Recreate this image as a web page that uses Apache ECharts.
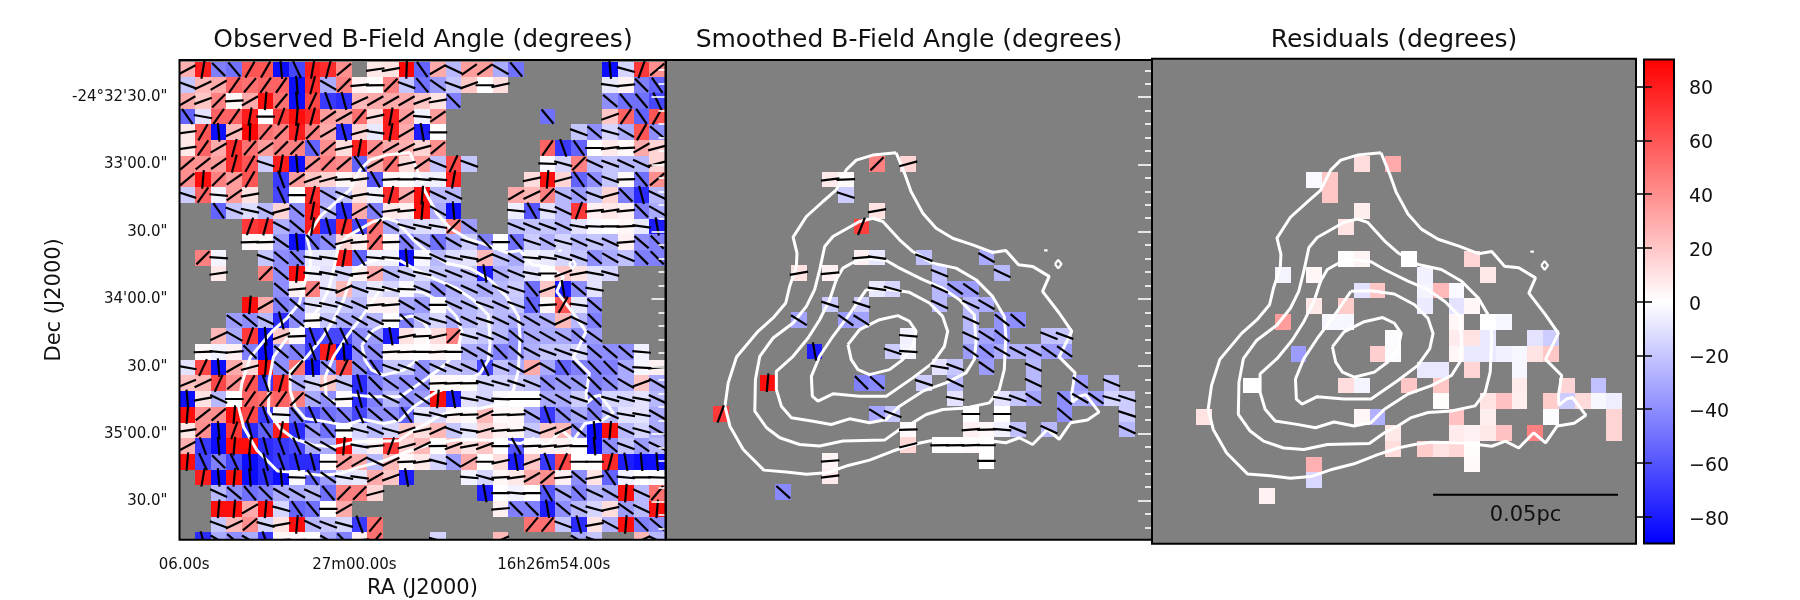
<!DOCTYPE html>
<html>
<head>
<meta charset="utf-8">
<style>html,body{margin:0;padding:0;background:#fff}#chart{width:1800px;height:600px}</style>
<script src="https://cdn.jsdelivr.net/npm/echarts@6/dist/echarts.min.js"></script>
</head>
<body>
<div id="chart"></div>
<script>
const _ = null;

// Observed field angle per map pixel (degrees), one list per row from north to south.
const obs00 = [28,80,-45,-50,60,60,-85,-65,80,75,40,_,8,10,88,-55,30,-25,35,35,-30,-50,_,_,_,_,_,-85,-15,70,40];
const obs01 = [-20,25,30,55,50,55,55,-85,75,-30,45,5,1,45,-20,-50,-35,-20,20,0,12,_,_,_,_,_,_,-8,5,-45,-55];
const obs02 = [30,20,45,3,30,85,50,-85,65,-70,-75,25,30,30,30,20,10,-45,_,_,_,_,_,_,_,_,_,-40,-50,-50,-65];
const obs03 = [-55,-10,55,55,80,0,70,85,75,35,30,50,12,80,35,-5,35,_,_,_,_,_,_,-50,_,_,_,20,55,-55,60];
const obs04 = [8,60,-85,25,88,50,45,80,45,30,-75,15,-8,80,30,-80,0,_,_,_,_,_,_,_,_,-20,-40,-15,-30,60,-40];
const obs05 = [8,55,30,75,50,35,45,45,-55,40,12,80,40,30,28,15,40,_,_,_,_,_,_,55,-70,-55,0,7,2,30,15];
const obs06 = [40,38,35,75,60,-18,80,-85,38,45,40,-55,30,50,12,35,-22,65,-20,_,_,_,_,-2,-15,45,-25,-20,-25,-25,15];
const obs07 = [40,85,45,35,60,_,-70,35,20,15,3,8,-60,3,0,-5,-5,80,_,_,_,_,12,85,15,-55,-40,-20,2,-50,40];
const obs08 = [-18,55,-5,35,10,_,-65,0,75,-30,-22,10,-5,75,30,85,-25,-25,_,_,_,30,25,45,-25,-35,-20,15,-45,-75,-25];
const obs09 = [_,_,-55,-20,-12,-25,15,-40,80,-28,-75,30,-45,8,5,85,-30,-85,_,_,_,-6,-60,-10,-25,70,5,8,5,-45,-30];
const obs10 = [_,_,_,_,70,75,-28,-40,80,-75,75,-65,50,-30,-15,-12,-10,45,-35,_,_,-22,-22,-20,-25,-10,-2,0,3,-8,-80];
const obs11 = [_,_,_,_,2,2,-35,-85,-50,-40,15,5,50,2,-45,-30,-50,-30,-18,-45,0,-50,-18,-28,-15,-25,-20,-25,5,-40,-45];
const obs12 = [_,45,-4,_,_,-20,-40,-45,-8,-8,80,-55,-5,-5,-85,-3,-25,-12,-10,25,-22,-30,-5,-8,-15,-20,-40,-30,-22,-45,-45];
const obs13 = [_,_,8,_,_,45,-40,85,-5,-10,-15,5,30,-25,-18,-12,-20,-22,-22,-80,-28,-22,-10,0,20,10,-10,-15,_,_,_];
const obs14 = [_,_,_,_,_,_,-40,5,45,-10,25,-20,-8,-15,-2,-22,-40,-28,-25,-30,-25,-18,-50,20,-80,-40,-10,_,_,_,_];
const obs15 = [_,_,_,_,85,30,-45,-40,-10,-12,-20,-25,5,5,-30,-35,0,-25,-25,-20,-25,-20,-55,3,60,-8,-40,_,_,_,_];
const obs16 = [_,_,_,-35,-40,-25,-75,-40,2,-20,-30,-30,-25,0,-45,-25,-15,-30,-25,-18,-25,-30,-30,-28,25,-25,-45,_,_,_,_];
const obs17 = [_,_,25,-30,70,-85,20,2,-70,-65,-65,-40,-35,-80,10,3,12,45,-15,-20,-25,-40,-30,-30,-30,-40,-35,_,_,_,_];
const obs18 = [_,2,-5,5,-45,-85,-40,-45,-70,80,-85,-40,-40,3,2,0,3,0,-30,-30,-45,-40,-28,-20,-20,-15,-40,-40,-40,-5,_];
const obs19 = [-10,65,-85,30,15,85,-40,50,-85,-40,65,-40,-55,-20,-20,-40,-25,-22,-25,-65,-22,-30,30,-30,-55,-45,-45,-45,-30,-3,5];
const obs20 = [22,25,65,40,60,-70,75,-30,-15,20,-20,-75,-45,-35,-40,-40,2,2,1,-15,-15,-18,-22,-40,-35,-35,-45,-40,-30,20,-30];
const obs21 = [-85,10,-25,0,55,50,55,45,-30,-40,2,-75,-45,-25,-40,-35,85,-80,-10,-15,-2,0,0,-30,-30,-18,-45,-15,-15,-10,-25];
const obs22 = [85,38,40,85,65,-70,-3,-50,-65,-50,-45,-65,-40,-40,-55,-8,-15,5,2,25,2,3,-30,-70,-40,-30,-45,-25,-10,-10,-30];
const obs23 = [8,40,-85,70,-75,-55,80,-75,-35,-50,0,-15,-25,-15,20,12,25,-20,-8,15,5,3,-20,20,25,-40,-85,85,-25,-15,-30];
const obs24 = [28,-70,-85,85,85,-75,-70,-65,-30,-30,85,-10,5,70,15,25,1,20,10,20,0,-60,2,5,5,0,-85,-40,-20,-35,-25];
const obs25 = [85,-65,-45,-65,-85,-75,-70,-75,-75,0,35,30,-25,25,2,8,-15,-35,30,0,12,-80,20,-70,65,0,0,75,-80,-85,-85];
const obs26 = [_,80,-85,85,-85,-75,-85,-2,-55,-35,-10,-8,30,20,-80,_,_,_,-5,-15,3,8,30,40,5,-40,10,-55,-5,0,-2];
const obs27 = [_,_,-25,-40,-50,-45,-30,-30,-25,-50,45,45,15,_,_,_,_,_,_,-80,0,-5,0,-60,-30,-45,-25,-30,85,-25,50];
const obs28 = [_,_,85,85,30,85,-15,-55,-50,0,30,_,_,_,_,_,_,_,_,_,5,-45,-45,-80,-40,-25,-15,12,-35,-25,85];
const obs29 = [_,_,-20,25,40,-15,10,85,-25,-20,-15,-70,50,_,_,_,_,_,_,_,_,_,50,50,-20,-75,10,-28,85,-45,-40];
const obs30 = [_,-75,-30,-40,-30,-70,3,2,0,-30,-45,5,50,_,_,_,-15,_,_,_,25,_,_,_,_,-30,-20,_,_,25,-25];
const observedRows = [obs00,obs01,obs02,obs03,obs04,obs05,obs06,obs07,obs08,obs09,obs10,obs11,obs12,obs13,obs14,obs15,
  obs16,obs17,obs18,obs19,obs20,obs21,obs22,obs23,obs24,obs25,obs26,obs27,obs28,obs29,obs30];

// Smoothed angle on the dense core: [column, row, degrees].
const smoothedCells = [
  [13,6,45],[15,6,15],[10,7,7],[11,7,2],[11,8,-18],[13,9,10],[12,10,68],
  [12,12,5],[13,12,-8],[16,12,-22],[20,12,-30],[8,13,10],[10,13,5],[17,13,-22],[21,13,-25],
  [13,14,-8],[14,14,-15],[17,14,-25],[18,14,-35],[19,14,-35],
  [10,15,-18],[12,15,-18],[17,15,-25],[19,15,-25],[20,15,-30],
  [8,16,-32],[11,16,-35],[12,16,-32],[19,16,-25],[21,16,-38],[22,16,-40],
  [15,17,-5],[19,17,-25],[20,17,-32],[21,17,-38],[24,17,-22],[25,17,-20],
  [9,18,-80],[14,18,-18],[15,18,-4],[19,18,-35],[20,18,-38],[21,18,-30],[22,18,-28],[23,18,-28],[24,18,-35],[25,18,-35],
  [17,19,-10],[18,19,-20],[20,19,-35],[23,19,-25],
  [6,20,85],[12,20,-45],[13,20,-42],[16,20,-18],[18,20,-25],[23,20,-25],[26,20,-35],[28,20,-22],
  [18,21,-10],[21,21,-10],[22,21,-20],[23,21,-32],[25,21,-40],[26,21,-30],[27,21,-35],[28,21,-15],[29,21,-18],
  [3,22,70],[13,22,-32],[14,22,-20],[19,22,0],[21,22,0],[25,22,-40],[29,22,-18],
  [15,23,2],[19,23,5],[20,23,2],[21,23,-5],[22,23,-22],[24,23,-25],[29,23,-25],
  [15,24,14],[17,24,1],[18,24,1],[19,24,2],[20,24,0],
  [10,25,4],[20,25,0],[10,26,7],[7,27,-42]
];

// Observed minus smoothed on the same pixels: [column, row, degrees].
const residualCells = [
  [13,6,12],[15,6,30],[10,7,-2],[11,7,20],[11,8,20],[13,9,6],[12,10,10],
  [12,12,1],[13,12,4],[16,12,0],[20,12,15],[8,13,-4],[10,13,3],[17,13,-5],[21,13,8],
  [13,14,-10],[14,14,20],[17,14,-4],[18,14,25],[19,14,-2],
  [10,15,8],[12,15,18],[17,15,-7],[19,15,-10],[20,15,3],
  [8,16,35],[11,16,-3],[12,16,-3],[19,16,3],[21,16,0],[22,16,-3],
  [15,17,-1],[19,17,7],[20,17,10],[21,17,-8],[24,17,-10],[25,17,-18],
  [9,18,-35],[14,18,17],[15,18,-1],[19,18,3],[20,18,-8],[21,18,-8],[22,18,-5],[23,18,-3],[24,18,10],[25,18,20],
  [17,19,-8],[18,19,-8],[20,19,15],[23,19,-3],
  [6,20,0],[12,20,12],[13,20,-4],[16,20,20],[18,20,20],[23,20,7],[26,20,15],[28,20,-22],
  [18,21,1],[21,21,10],[22,21,22],[23,21,6],[25,21,18],[26,21,-18],[27,21,13],[28,21,-3],[29,21,-6],
  [3,22,10],[13,22,3],[14,22,-28],[19,22,22],[21,22,6],[25,22,-1],[29,22,15],
  [15,23,8],[19,23,7],[20,23,5],[21,23,8],[22,23,22],[24,23,45],[29,23,15],
  [15,24,12],[17,24,18],[18,24,10],[19,24,14],[20,24,1],
  [10,25,28],[20,25,2],[10,26,-14],[7,27,5]
];

// Intensity contours, outermost first, as [column, row] vertices of closed loops.
const contourOuter = [[14.72,5.79],[13.23,5.94],[12.17,6.26],[11.53,6.89],[10.89,8.17],[10.04,8.91],[8.98,9.87],[8.13,11.19],[8.38,12.21],[8.34,13.06],[7.91,14.34],[7.66,15.40],[6.85,16.36],[5.89,17.21],[4.51,18.85],[3.98,20.51],[3.77,22.0],[4.09,23.28],[4.94,24.77],[6.26,26.09],[7.70,26.21],[8.98,26.36],[10.26,26.26],[11.53,25.83],[13.02,25.45],[14.51,24.87],[15.79,24.45],[16.85,24.23],[17.91,24.09],[20.04,24.13],[21.74,24.34],[22.60,24.02],[23.45,24.45],[24.40,23.49],[25.15,24.13],[25.89,23.06],[26.96,22.89],[27.70,22.38],[26.85,21.26],[26.47,21.36],[26.0,21.74],[25.96,21.15],[26.17,19.87],[25.15,18.85],[25.96,17.21],[25.15,16.04],[24.09,14.66],[24.51,13.70],[23.45,13.06],[22.55,12.96],[21.74,12.04],[20.89,12.17],[19.62,11.68],[18.34,11.26],[17.28,10.62],[16.43,9.66],[15.68,8.28],[15.26,7.11]];
const contourSecond = [[13.23,9.98],[12.38,10.19],[10.68,11.15],[10.15,11.79],[9.83,13.28],[9.51,14.55],[8.98,15.62],[8.13,16.68],[6.85,17.64],[6.0,18.81],[5.72,20.30],[5.68,22.32],[6.43,23.38],[7.28,24.02],[8.55,24.45],[9.83,24.55],[11.32,24.23],[13.98,24.17],[14.94,23.49],[15.79,23.06],[16.64,22.53],[17.70,22.21],[19.19,22.11],[20.68,21.79],[21.32,20.94],[21.64,19.66],[21.74,17.53],[21.64,16.26],[20.89,14.98],[19.83,13.91],[18.55,13.17],[17.06,12.85],[15.79,12.11],[14.94,11.36],[13.87,10.19]];
const contourThird = [[11.96,12.81],[12.81,12.53],[14.09,12.68],[14.94,13.17],[16.43,13.91],[17.70,14.45],[18.77,15.19],[19.72,16.15],[19.83,17.96],[19.72,19.02],[19.19,19.87],[17.91,20.51],[16.43,21.04],[14.94,22.0],[14.09,22.85],[13.02,23.06],[11.74,22.81],[10.57,23.17],[9.40,22.96],[8.02,22.74],[7.38,22.0],[7.06,20.94],[7.06,19.77],[8.13,18.81],[9.09,17.64],[9.83,16.47],[10.47,15.19],[10.89,13.91],[11.32,13.17]];
const contourFourth = [[12.81,14.55],[14.09,14.51],[15.57,14.72],[16.85,15.40],[17.70,16.26],[18.02,17.21],[17.81,18.17],[17.06,19.23],[15.79,20.19],[14.09,21.36],[12.38,21.36],[10.68,21.21],[9.72,21.68],[9.36,21.36],[9.30,20.09],[9.83,18.81],[10.68,17.53],[11.64,16.26]];
const contourPeak = [[11.64,18.06],[12.38,17.11],[13.66,16.47],[14.83,16.21],[15.57,16.57],[16.0,17.21],[15.79,18.17],[15.15,19.02],[14.30,19.66],[13.02,19.98],[12.28,19.66],[11.85,19.02]];
const contourRing = [[24.88,12.91],[25.09,12.64],[25.30,12.91],[25.09,13.19]];
const contourSpot = [[24.19,12.04],[24.30,11.93],[24.41,12.04],[24.30,12.15]];
const contourLoops = [contourOuter,contourSecond,contourThird,contourFourth,contourPeak,contourRing,contourSpot];

// Sky-coordinate ticks, placed in map rows and columns.
const decTickRows = [2.24,6.54,10.84,15.14,19.44,23.74,28.04];
const decTickLabels = ["-24°32'30.0\"","33'00.0\"","30.0\"","34'00.0\"","30.0\"","35'00.0\"","30.0\""];
const decMinorRows = [0.52,1.38,3.10,3.96,4.82,5.68,7.40,8.26,9.12,9.98,11.70,12.56,13.42,14.28,16.00,16.86,17.72,18.58,20.30,21.16,22.02,22.88,24.60,25.46,26.32,27.18,28.90,29.76];
const raTickColumns = [0.3,11.17,23.9];
const raTickLabels = ["06.00s","27m00.00s","16h26m54.00s"];

const colorbarTicks = [-80,-60,-40,-20,0,20,40,60,80];
const diverging = ['#0000ff','#ffffff','#ff0000'];
const panelTitles = ['Observed B-Field Angle (degrees)','Smoothed B-Field Angle (degrees)','Residuals (degrees)'];
const titleCentres = [418, 904, 1389];
const scaleBar = [[18.02,27.41],[29.74,27.41]];
const scaleBarText = '0.05pc';

const observedCells = [];
observedRows.forEach(function (row, r) {
  row.forEach(function (v, c) { if (v !== null) observedCells.push([c, r, v]); });
});

const FONT = 'DejaVu Sans';
const HALF_SEGMENT = 9.3;

function renderCell(params, api) {
  const c = api.value(0), r = api.value(1);
  const a = api.coord([c, r]), b = api.coord([c + 1, r + 1]);
  const x0 = Math.round(a[0]), y0 = Math.round(a[1]);
  return {
    type: 'rect',
    shape: { x: x0, y: y0, width: Math.round(b[0]) - x0, height: Math.round(b[1]) - y0 },
    style: { fill: api.visual('color') }
  };
}

// Polarisation segment through the pixel centre, tilted by the pixel's own angle.
function renderSegment(params, api) {
  const p = api.coord([api.value(0) + 0.5, api.value(1) + 0.5]);
  const t = api.value(2) * Math.PI / 180;
  const dx = HALF_SEGMENT * Math.cos(t), dy = HALF_SEGMENT * Math.sin(t);
  return {
    type: 'line',
    shape: { x1: p[0] - dx, y1: p[1] + dy, x2: p[0] + dx, y2: p[1] - dy },
    style: { stroke: '#000', lineWidth: 2.2, fill: null }
  };
}

function renderFrame(params) {
  const s = params.coordSys;
  return {
    type: 'rect',
    shape: { x: s.x, y: s.y, width: s.width, height: s.height },
    style: { fill: null, stroke: '#000', lineWidth: 2 }
  };
}

// Physical scale bar with its length printed below it.
function renderScaleBar(params, api) {
  const a = api.coord(scaleBar[0]), b = api.coord(scaleBar[1]);
  return {
    type: 'group',
    children: [
      { type: 'line', shape: { x1: a[0], y1: a[1], x2: b[0], y2: b[1] }, style: { stroke: '#000', lineWidth: 2, fill: null } },
      { type: 'text', x: (a[0] + b[0]) / 2, y: a[1] + 21,
        style: { text: scaleBarText, fill: '#111', fontFamily: FONT, fontSize: 21, align: 'center', verticalAlign: 'middle' } }
    ]
  };
}

function frameSeries(i, yi) {
  return { type: 'custom', xAxisIndex: i, yAxisIndex: yi, z: 8, silent: true, clip: false, renderItem: renderFrame, data: [[0, 0]], encode: { x: 0, y: 1 } };
}
function cellSeries(i, yi, cells) {
  return { type: 'custom', xAxisIndex: i, yAxisIndex: yi, z: 2, clip: true, silent: true, renderItem: renderCell, data: cells, dimensions: ['column','row','angle'], encode: { x: 0, y: 1 } };
}
function segmentSeries(i, yi, cells) {
  return { type: 'custom', xAxisIndex: i, yAxisIndex: yi, z: 4, clip: true, silent: true, renderItem: renderSegment, data: cells, encode: { x: 0, y: 1 } };
}
function contourSeries(i, yi) {
  return contourLoops.map(function (loop, k) {
    return {
      type: 'line', xAxisIndex: i, yAxisIndex: yi, z: 3, silent: true, showSymbol: false, symbol: 'none', clip: true,
      lineStyle: { color: '#fff', width: k > 4 ? 2.2 : 3 }, data: loop.concat([loop[0]])
    };
  });
}

const grids = [
  { left: 179.5, top: 60, width: 486, height: 479.7 },
  { left: 666, top: 60, width: 486, height: 479.7 },
  { left: 1152, top: 58.7, width: 484, height: 485 },
  { left: 1644, top: 59.6, width: 30, height: 484 }
].map(function (g) { return Object.assign({ backgroundColor: '#808080', show: true, borderWidth: 0, outerBoundsMode: 'none' }, g); });

function skyX(min, max, extra) {
  return Object.assign({
    type: 'value', min: min, max: max, axisLine: { show: false }, axisTick: { show: false },
    axisLabel: { show: false }, splitLine: { show: false }
  }, extra || {});
}
function skyY(gridIndex, min, max, extra) {
  return Object.assign({
    type: 'value', gridIndex: gridIndex, inverse: true, min: min, max: max, z: 6, position: 'left',
    axisLine: { show: false }, axisTick: { show: false }, axisLabel: { show: false }, splitLine: { show: false }
  }, extra || {});
}
function whiteTicks(gridIndex, min, max, values, length) {
  return skyY(gridIndex, min, max, {
    position: 'right',
    axisTick: { show: true, inside: true, length: length, customValues: values, lineStyle: { color: '#fff', width: 1.6 } }
  });
}

const xAxes = [
  skyX(0, 31.03, {
    gridIndex: 0, name: 'RA (J2000)', nameLocation: 'middle', nameGap: 38,
    nameTextStyle: { fontFamily: FONT, fontSize: 21, color: '#111' },
    axisLabel: {
      show: true, customValues: raTickColumns, margin: 18, fontFamily: FONT, fontSize: 15, color: '#111',
      hideOverlap: false, showMinLabel: true, showMaxLabel: true,
      formatter: function (v) { return raTickLabels[raTickColumns.indexOf(v)]; }
    }
  }),
  skyX(0, 31.09, { gridIndex: 1 }),
  skyX(0.21, 30.88, { gridIndex: 2 }),
  { type: 'value', gridIndex: 3, min: 0, max: 1, axisLine: { show: false }, axisTick: { show: false }, axisLabel: { show: false }, splitLine: { show: false } }
];

const yAxes = [
  skyY(0, -0.108, 30.47, {
    name: 'Dec (J2000)', nameLocation: 'middle', nameGap: 114,
    nameTextStyle: { fontFamily: FONT, fontSize: 21, color: '#111' },
    axisLabel: {
      show: true, customValues: decTickRows, margin: 12, fontFamily: FONT, fontSize: 15, color: '#111',
      formatter: function (v) { return decTickLabels[decTickRows.indexOf(v)]; }
    }
  }),
  whiteTicks(0, -0.108, 30.47, decTickRows, 14),
  whiteTicks(0, -0.108, 30.47, decMinorRows, 7),
  skyY(1, -0.14, 30.54),
  whiteTicks(1, -0.14, 30.54, decTickRows, 14),
  whiteTicks(1, -0.14, 30.54, decMinorRows, 7),
  skyY(2, -0.15, 30.5),
  {
    type: 'value', gridIndex: 3, min: -90, max: 90, position: 'right', z: 6, splitLine: { show: false }, axisLine: { show: false },
    axisTick: { show: true, length: 8, customValues: colorbarTicks, lineStyle: { color: '#111', width: 1.6 } },
    axisLabel: {
      show: true, customValues: colorbarTicks, margin: 15, verticalAlign: 'top', lineHeight: 6, fontFamily: FONT, fontSize: 19, color: '#111',
      formatter: function (v) { return String(v).replace('-', '\u2212'); }
    }
  },
  {
    type: 'value', gridIndex: 3, min: -90, max: 90, position: 'left', z: 6, splitLine: { show: false }, axisLine: { show: false },
    axisTick: { show: true, length: 8, customValues: colorbarTicks, lineStyle: { color: '#111', width: 1.6 } },
    axisLabel: { show: false }
  }
];

const series = [
  cellSeries(0, 0, observedCells),
  cellSeries(1, 3, smoothedCells),
  cellSeries(2, 6, residualCells)
].concat(
  contourSeries(0, 0), contourSeries(1, 3), contourSeries(2, 6),
  [
    segmentSeries(0, 0, observedCells),
    segmentSeries(1, 3, smoothedCells),
    { type: 'custom', xAxisIndex: 2, yAxisIndex: 6, z: 5, silent: true, clip: false, renderItem: renderScaleBar, data: [scaleBar[0]], encode: { x: 0, y: 1 } },
    // Colour bar, filled along its own degree scale
    {
      type: 'custom', xAxisIndex: 3, yAxisIndex: 7, z: 2, silent: true, clip: true, data: [[0, 90]], encode: { x: 0, y: 1 },
      renderItem: function (params, api) {
        const a = api.coord([0, 90]), b = api.coord([1, -90]);
        return {
          type: 'rect',
          shape: { x: a[0], y: a[1], width: b[0] - a[0], height: b[1] - a[1] },
          style: {
            fill: {
              type: 'linear', x: 0, y: 0, x2: 0, y2: 1,
              colorStops: [
                { offset: 0, color: diverging[2] },
                { offset: 0.5, color: diverging[1] },
                { offset: 1, color: diverging[0] }
              ]
            }
          }
        };
      }
    },
    frameSeries(0, 0), frameSeries(1, 3), frameSeries(2, 6), frameSeries(3, 7)
  ]
);

const chart = echarts.init(document.getElementById('chart'), null, { renderer: 'canvas' });
chart.setOption({
  animation: false,
  backgroundColor: '#fff',
  textStyle: { fontFamily: FONT },
  title: panelTitles.map(function (t, i) {
    return {
      text: t, left: titleCentres[i], top: 23, textAlign: 'center',
      textStyle: { fontFamily: FONT, fontWeight: 'normal', fontSize: 25, color: '#111' }
    };
  }),
  grid: grids,
  xAxis: xAxes,
  yAxis: yAxes,
  visualMap: {
    type: 'continuous', show: false, min: -90, max: 90, dimension: 2, seriesIndex: [0, 1, 2],
    inRange: { color: diverging }
  },
  series: series
});
</script>
</body>
</html>
